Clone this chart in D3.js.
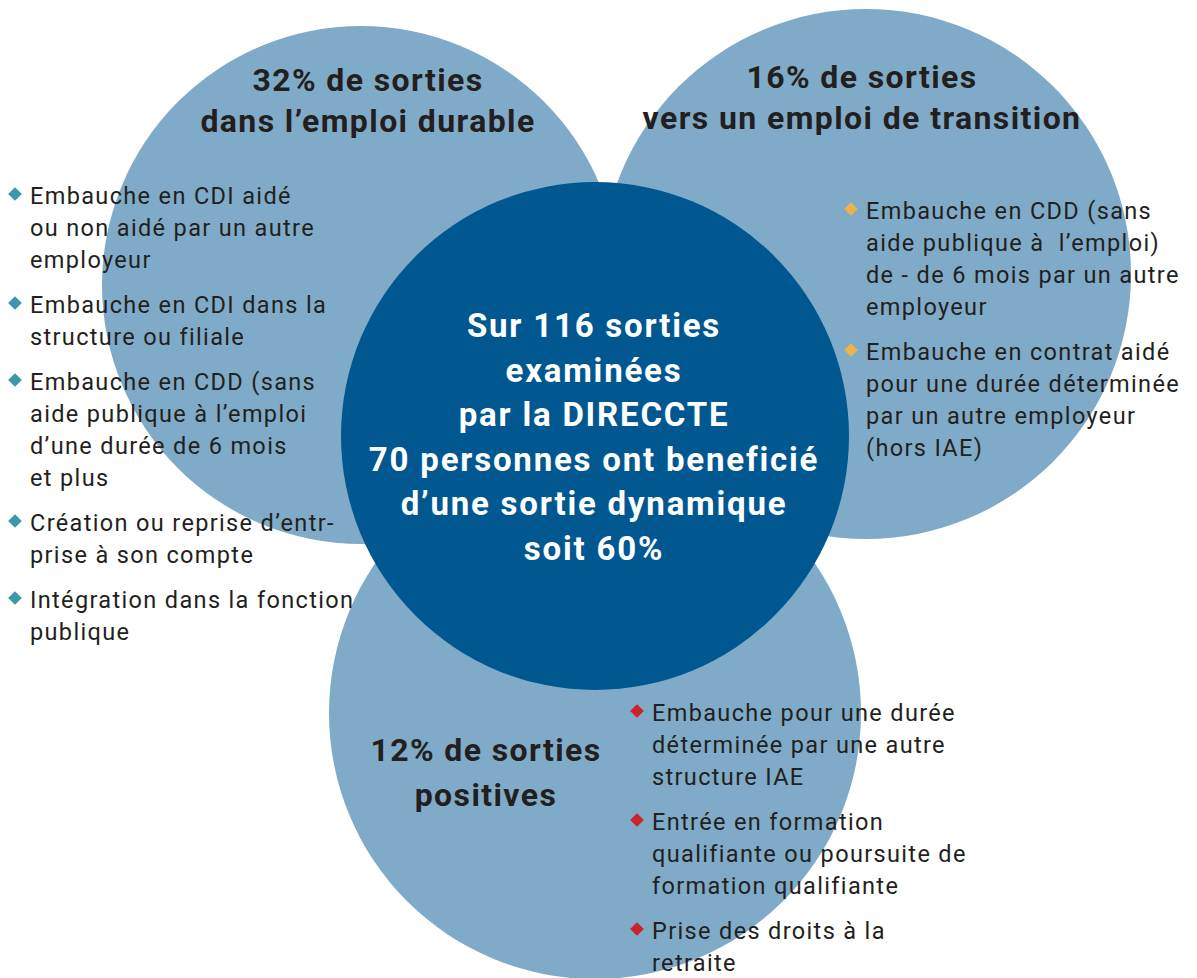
<!DOCTYPE html>
<html>
<head>
<meta charset="utf-8">
<script src="https://cdn.jsdelivr.net/npm/d3@7"></script>
<style>
  body { margin: 0; background: #fff; }
  svg text { font-family: Roboto, "DejaVu Sans", sans-serif; white-space: pre; }
</style>
</head>
<body>
<div id="chart"></div>
<script>
var width = 1197,
	height = 978;

// the three groups of sorties
var groups = ["durable", "transition", "positives"];
var shares = [32, 16, 12];
var titles = [
	["32% de sorties", "dans l\u2019emploi durable"],
	["16% de sorties", "vers un emploi de transition"],
	["12% de sorties", "positives"]
];
var bulletColors = ["#3a98aa", "#e9b44c", "#cc2229"];

var itemsDurable = [
	["Embauche en CDI aidé", "ou non aidé par un autre", "employeur"],
	["Embauche en CDI dans la", "structure ou filiale"],
	["Embauche en CDD (sans", "aide publique à l\u2019emploi", "d\u2019une durée de 6 mois", "et plus"],
	["Création ou reprise d\u2019entr-", "prise à son compte"],
	["Intégration dans la fonction", "publique"]
];
var itemsTransition = [
	["Embauche en CDD (sans", "aide publique à  l\u2019emploi)", "de - de 6 mois par un autre", "employeur"],
	["Embauche en contrat aidé", "pour une durée déterminée", "par un autre employeur", "(hors IAE)"]
];
var itemsPositives = [
	["Embauche pour une durée", "déterminée par une autre", "structure IAE"],
	["Entrée en formation", "qualifiante ou poursuite de", "formation qualifiante"],
	["Prise des droits à la", "retraite"]
];
var centerLines = ["Sur 116 sorties", "examinées", "par la DIRECCTE",
	"70 personnes ont beneficié", "d\u2019une sortie dynamique", "soit 60%"];

// layout
var circles = [
	{cx: 361, cy: 285, r: 259},
	{cx: 866, cy: 274, r: 265},
	{cx: 595, cy: 713, r: 266}
];
var centre = {cx: 595, cy: 436, r: 254};
var titlePos = [{x: 368, y: 91}, {x: 862, y: 88}, {x: 486, y: 761}];
var listPos = [{x: 30, y: 204}, {x: 866, y: 219}, {x: 652, y: 721}];
var lineH = 32,
	itemGap = 13;

var svg = d3.select("#chart").append("svg")
	.attr("width", width)
	.attr("height", height);

svg.append("g")
	.attr("class", "groups")
	.selectAll("circle")
	.data(circles)
	.enter()
	.append("circle")
	.attr("cx", function(d) { return d.cx; })
	.attr("cy", function(d) { return d.cy; })
	.attr("r", function(d) { return d.r; })
	.attr("fill", "#7fabc8");

svg.append("circle")
	.attr("cx", centre.cx)
	.attr("cy", centre.cy)
	.attr("r", centre.r)
	.attr("fill", "#015891");

// titles
titles.forEach(function(t, i) {
	svg.append("text")
		.attr("x", titlePos[i].x)
		.attr("y", titlePos[i].y)
		.attr("text-anchor", "middle")
		.attr("font-size", 32)
		.attr("font-weight", "bold")
		.attr("letter-spacing", 1.4)
		.attr("fill", "#231f20")
		.selectAll("tspan")
		.data(t)
		.enter()
		.append("tspan")
		.attr("x", titlePos[i].x)
		.attr("dy", function(d, j) { return j === 0 ? 0 : (i === 2 ? 45 : 41); })
		.text(function(d) { return d; });
});

// bullet lists
[itemsDurable, itemsTransition, itemsPositives].forEach(function(items, i) {
	var g = svg.append("g").attr("class", "list-" + groups[i]);
	var y = listPos[i].y;
	items.forEach(function(lines) {
		g.append("path")
			.attr("d", d3.symbol().type(d3.symbolDiamond2).size(120))
			.attr("transform", "translate(" + (listPos[i].x - 15) + "," + (y - 10) + ")")
			.attr("fill", bulletColors[i]);
		g.append("text")
			.attr("font-size", 23.5)
			.attr("letter-spacing", 1.35)
			.attr("fill", "#231f20")
			.selectAll("tspan")
			.data(lines)
			.enter()
			.append("tspan")
			.attr("x", listPos[i].x)
			.attr("y", function(d, j) { return y + j * lineH; })
			.text(function(d) { return d; });
		y += lines.length * lineH + itemGap;
	});
});

// centre text
svg.append("text")
	.attr("text-anchor", "middle")
	.attr("font-size", 33)
	.attr("font-weight", "bold")
	.attr("letter-spacing", 1.8)
	.attr("fill", "#fff")
	.selectAll("tspan")
	.data(centerLines)
	.enter()
	.append("tspan")
	.attr("x", 594)
	.attr("y", function(d, i) { return 337 + i * 44.6; })
	.text(function(d) { return d; });
</script>
</body>
</html>
